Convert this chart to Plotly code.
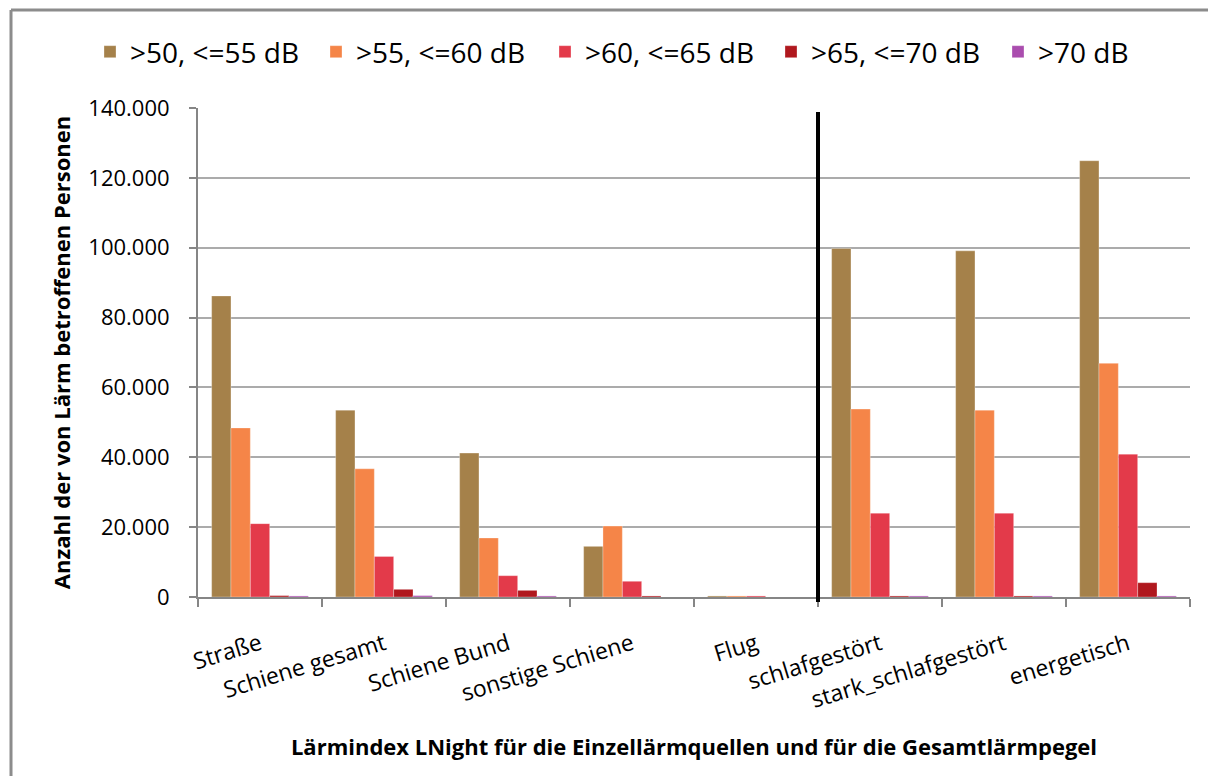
import plotly.graph_objects as go

categories = ["Straße", "Schiene gesamt", "Schiene Bund", "sonstige Schiene", "Flug",
              "schlafgestört", "stark_schlafgestört", "energetisch"]
series_names = [">50, <=55 dB", ">55, <=60 dB", ">60, <=65 dB", ">65, <=70 dB", ">70 dB"]
v_50_55 = [86200, 53500, 41200, 14500, 300, 99800, 99100, 124900]
v_55_60 = [48400, 36700, 16900, 20300, 300, 53800, 53500, 66900]
v_60_65 = [21000, 11600, 6100, 4500, 300, 24000, 24000, 40900]
v_65_70 = [400, 2200, 1900, 300, 0, 300, 300, 4100]
v_70 = [300, 400, 300, 0, 0, 300, 300, 300]
colors = ["#A5814A", "#F58548", "#E33A4A", "#B0181E", "#AA4DAE"]
y_ticks = [0, 20000, 40000, 60000, 80000, 100000, 120000, 140000]

all_values = [v_50_55, v_55_60, v_60_65, v_65_70, v_70]

font_family = "'Open Sans', sans-serif"

# page body has an 8px margin; figure sized so the page does not scroll
OFF = 8
VIEW_W, VIEW_H = 1216, 784
W, H = VIEW_W - 2 * OFF, VIEW_H - 2 * OFF
PLOT_LEFT, PLOT_RIGHT, PLOT_TOP, PLOT_BOTTOM = 198, 1190, 108, 597
L, R = PLOT_LEFT - OFF, OFF + W - PLOT_RIGHT
T, B = PLOT_TOP - OFF, OFF + H - PLOT_BOTTOM
PW, PH = W - L - R, H - T - B


def px_x(px):
    return (px - PLOT_LEFT) / PW


def px_y(py):
    return (PLOT_BOTTOM - py) / PH


legend_ids = ["legend", "legend2", "legend3", "legend4", "legend5"]
legend_left_px = [90, 316, 545, 771, 998]

fig = go.Figure()
for name, vals, col, lid in zip(series_names, all_values, colors, legend_ids):
    fig.add_trace(go.Bar(
        x=categories, y=vals, name=name, legend=lid,
        marker=dict(color=col, line=dict(color="rgba(255,255,255,0.5)", width=0.6)),
    ))

legend_layout = {}
for lid, px in zip(legend_ids, legend_left_px):
    legend_layout[lid] = dict(
        orientation="h", x=px_x(px), xanchor="left",
        y=px_y(52), yanchor="middle",
        font=dict(size=28, family=font_family, color="#000"),
        bgcolor="rgba(0,0,0,0)", borderwidth=0,
    )

fig.update_layout(
    width=W, height=H,
    margin=dict(l=L, r=R, t=T, b=B, autoexpand=False),
    paper_bgcolor="white", plot_bgcolor="white",
    barmode="group", bargap=0.22, bargroupgap=0,
    separators=",.",
    font=dict(family=font_family, color="#000000", size=20),
    showlegend=True,
    **legend_layout,
    xaxis=dict(
        automargin=False,
        showline=True, linecolor="#868686", linewidth=2,
        ticks="outside", tickson="boundaries", ticklen=8, tickcolor="#868686", tickwidth=2,
        tickangle=-17, tickfont=dict(size=23, family=font_family),
        ticklabelstandoff=23,
        title=dict(text="<b>Lärmindex LNight für die Einzellärmquellen und für die Gesamtlärmpegel</b>",
                   font=dict(size=22, family=font_family), standoff=26),
        showgrid=False,
    ),
    yaxis=dict(
        automargin=False,
        range=[0, 140000], tickvals=y_ticks, tickformat=",d",
        showline=True, linecolor="#868686", linewidth=2,
        ticks="outside", ticklen=7, tickcolor="#868686", tickwidth=2,
        ticklabelstandoff=15,
        showgrid=True, gridcolor="#ABABAB", gridwidth=2,
        zeroline=False,
        tickfont=dict(size=22, family=font_family),
        title=dict(text="<b>Anzahl der von Lärm betroffenen Personen</b>",
                   font=dict(size=22, family=font_family), standoff=12),
    ),
)

# separator line between individual sources and total-noise indicators
fig.add_shape(type="line", xref="x", yref="paper", x0=4.5, x1=4.5, y0=px_y(602), y1=px_y(112),
              line=dict(color="black", width=4))
# outer chart frame (only its top and left edges fall inside the picture)
fig.add_shape(type="line", xref="paper", yref="paper",
              x0=px_x(11), x1=px_x(1260), y0=px_y(10), y1=px_y(10),
              line=dict(color="#8C8C8C", width=3), layer="below")
fig.add_shape(type="line", xref="paper", yref="paper",
              x0=px_x(11), x1=px_x(11), y0=px_y(10), y1=px_y(820),
              line=dict(color="#8C8C8C", width=3), layer="below")

fig.write_html("out.html")
